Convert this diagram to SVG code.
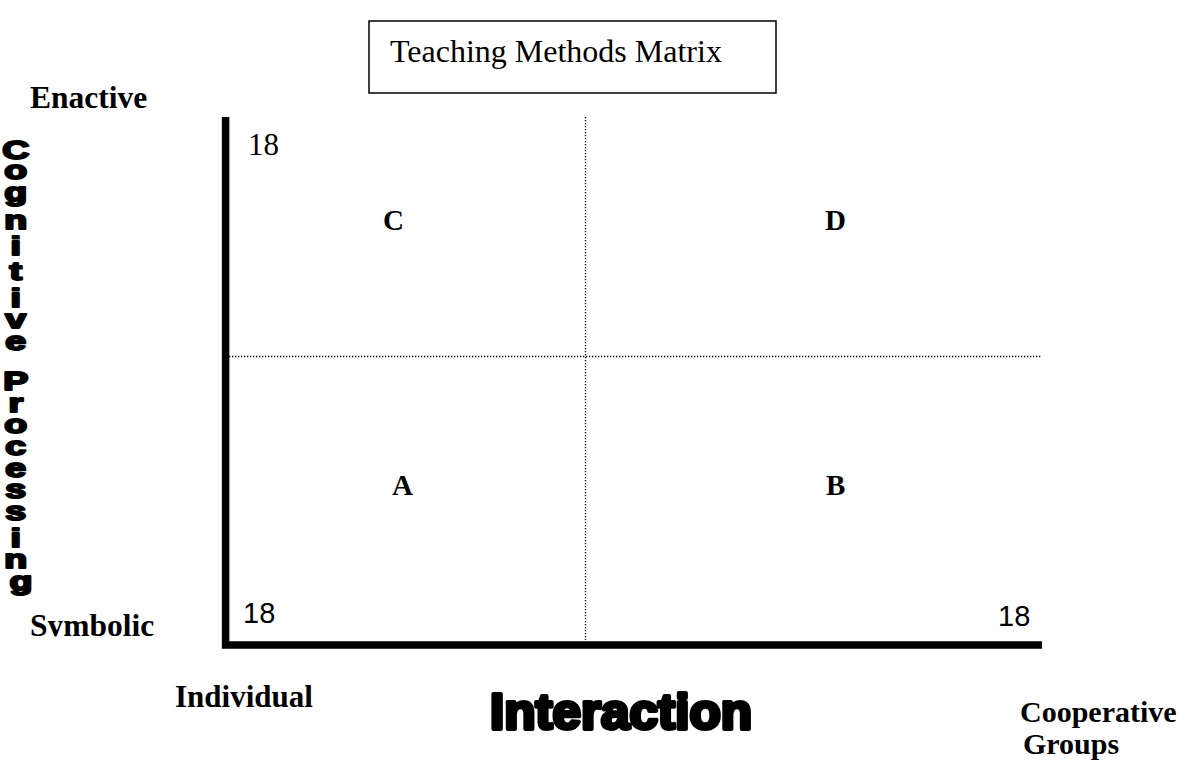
<svg xmlns="http://www.w3.org/2000/svg" width="1193" height="761" viewBox="0 0 1193 761">
<style>
.tb{font-family:"Liberation Serif","Times New Roman",serif;font-weight:bold;fill:#000}
.tr{font-family:"Liberation Serif","Times New Roman",serif;fill:#000}
.sn{font-family:"Liberation Sans",Arial,sans-serif;font-size:29px;fill:#000}
.q{font-family:"Liberation Serif","Times New Roman",serif;font-weight:bold;font-size:29px;fill:#000}
.heavy{font-family:"Liberation Sans",Arial,sans-serif;font-weight:bold;fill:#000;stroke:#000;stroke-linejoin:round}
.dot{stroke:#000;stroke-width:1.3;stroke-dasharray:1.3 1.7;fill:none}
</style>
<defs>
<clipPath id="clipSym"><rect x="0" y="560" width="220" height="76.5"/></clipPath>
</defs>
<rect width="1193" height="761" fill="#fff"/>
<g id="title">
<rect x="369" y="21" width="407" height="72" fill="none" stroke="#000" stroke-width="1.5"/>
<text class="tr" x="390" y="62" font-size="32">Teaching Methods Matrix</text>
</g>
<g id="connectors">
<path d="M225.6,117 V645 H1042" fill="none" stroke="#000" stroke-width="7.5"/>
<line class="dot" x1="585.5" y1="117" x2="585.5" y2="640"/>
<line class="dot" x1="229" y1="356.5" x2="1042" y2="356.5"/>
</g>
<g id="y-axis-labels">
<text class="tb" x="30" y="108" font-size="31.5">Enactive</text>
<text class="tb" x="30" y="636" font-size="31.5" clip-path="url(#clipSym)">Symbolic</text>
</g>
<g id="y-axis-title" transform="translate(21,0) scale(1.5,1)">
<text class="heavy" font-size="25" stroke-width="2" text-anchor="middle">
<tspan x="0" y="159">C</tspan>
<tspan x="0" y="179">o</tspan>
<tspan x="0" y="201">g</tspan>
<tspan x="0" y="229">n</tspan>
<tspan x="0" y="255">i</tspan>
<tspan x="0" y="280">t</tspan>
<tspan x="0" y="307">i</tspan>
<tspan x="0" y="328">v</tspan>
<tspan x="0" y="350">e</tspan>
<tspan x="0" y="390">P</tspan>
<tspan x="0" y="412">r</tspan>
<tspan x="0" y="433">o</tspan>
<tspan x="0" y="455">c</tspan>
<tspan x="0" y="477">e</tspan>
<tspan x="0" y="498">s</tspan>
<tspan x="0" y="520">s</tspan>
<tspan x="0" y="547">i</tspan>
<tspan x="0" y="568">n</tspan>
<tspan x="0" y="590">g</tspan>
</text>
</g>
<g id="scale-labels">
<text class="tr" x="248" y="155" font-size="31">18</text>
<text class="sn" x="243" y="623">18</text>
<text class="sn" x="998" y="626">18</text>
</g>
<g id="quadrant-C"><text class="q" x="383" y="230">C</text></g>
<g id="quadrant-D"><text class="q" x="825" y="230">D</text></g>
<g id="quadrant-A"><text class="q" x="392" y="495">A</text></g>
<g id="quadrant-B"><text class="q" x="826" y="495">B</text></g>
<g id="x-axis-labels">
<text class="tb" x="175" y="707" font-size="31">Individual</text>
<text class="tb" x="1020" y="722" font-size="30">Cooperative</text>
<text class="tb" x="1023" y="754" font-size="30">Groups</text>
</g>
<g id="x-axis-title">
<text class="heavy" x="490" y="729" font-size="50" stroke-width="4" textLength="262" lengthAdjust="spacingAndGlyphs">Interaction</text>
</g>
</svg>
